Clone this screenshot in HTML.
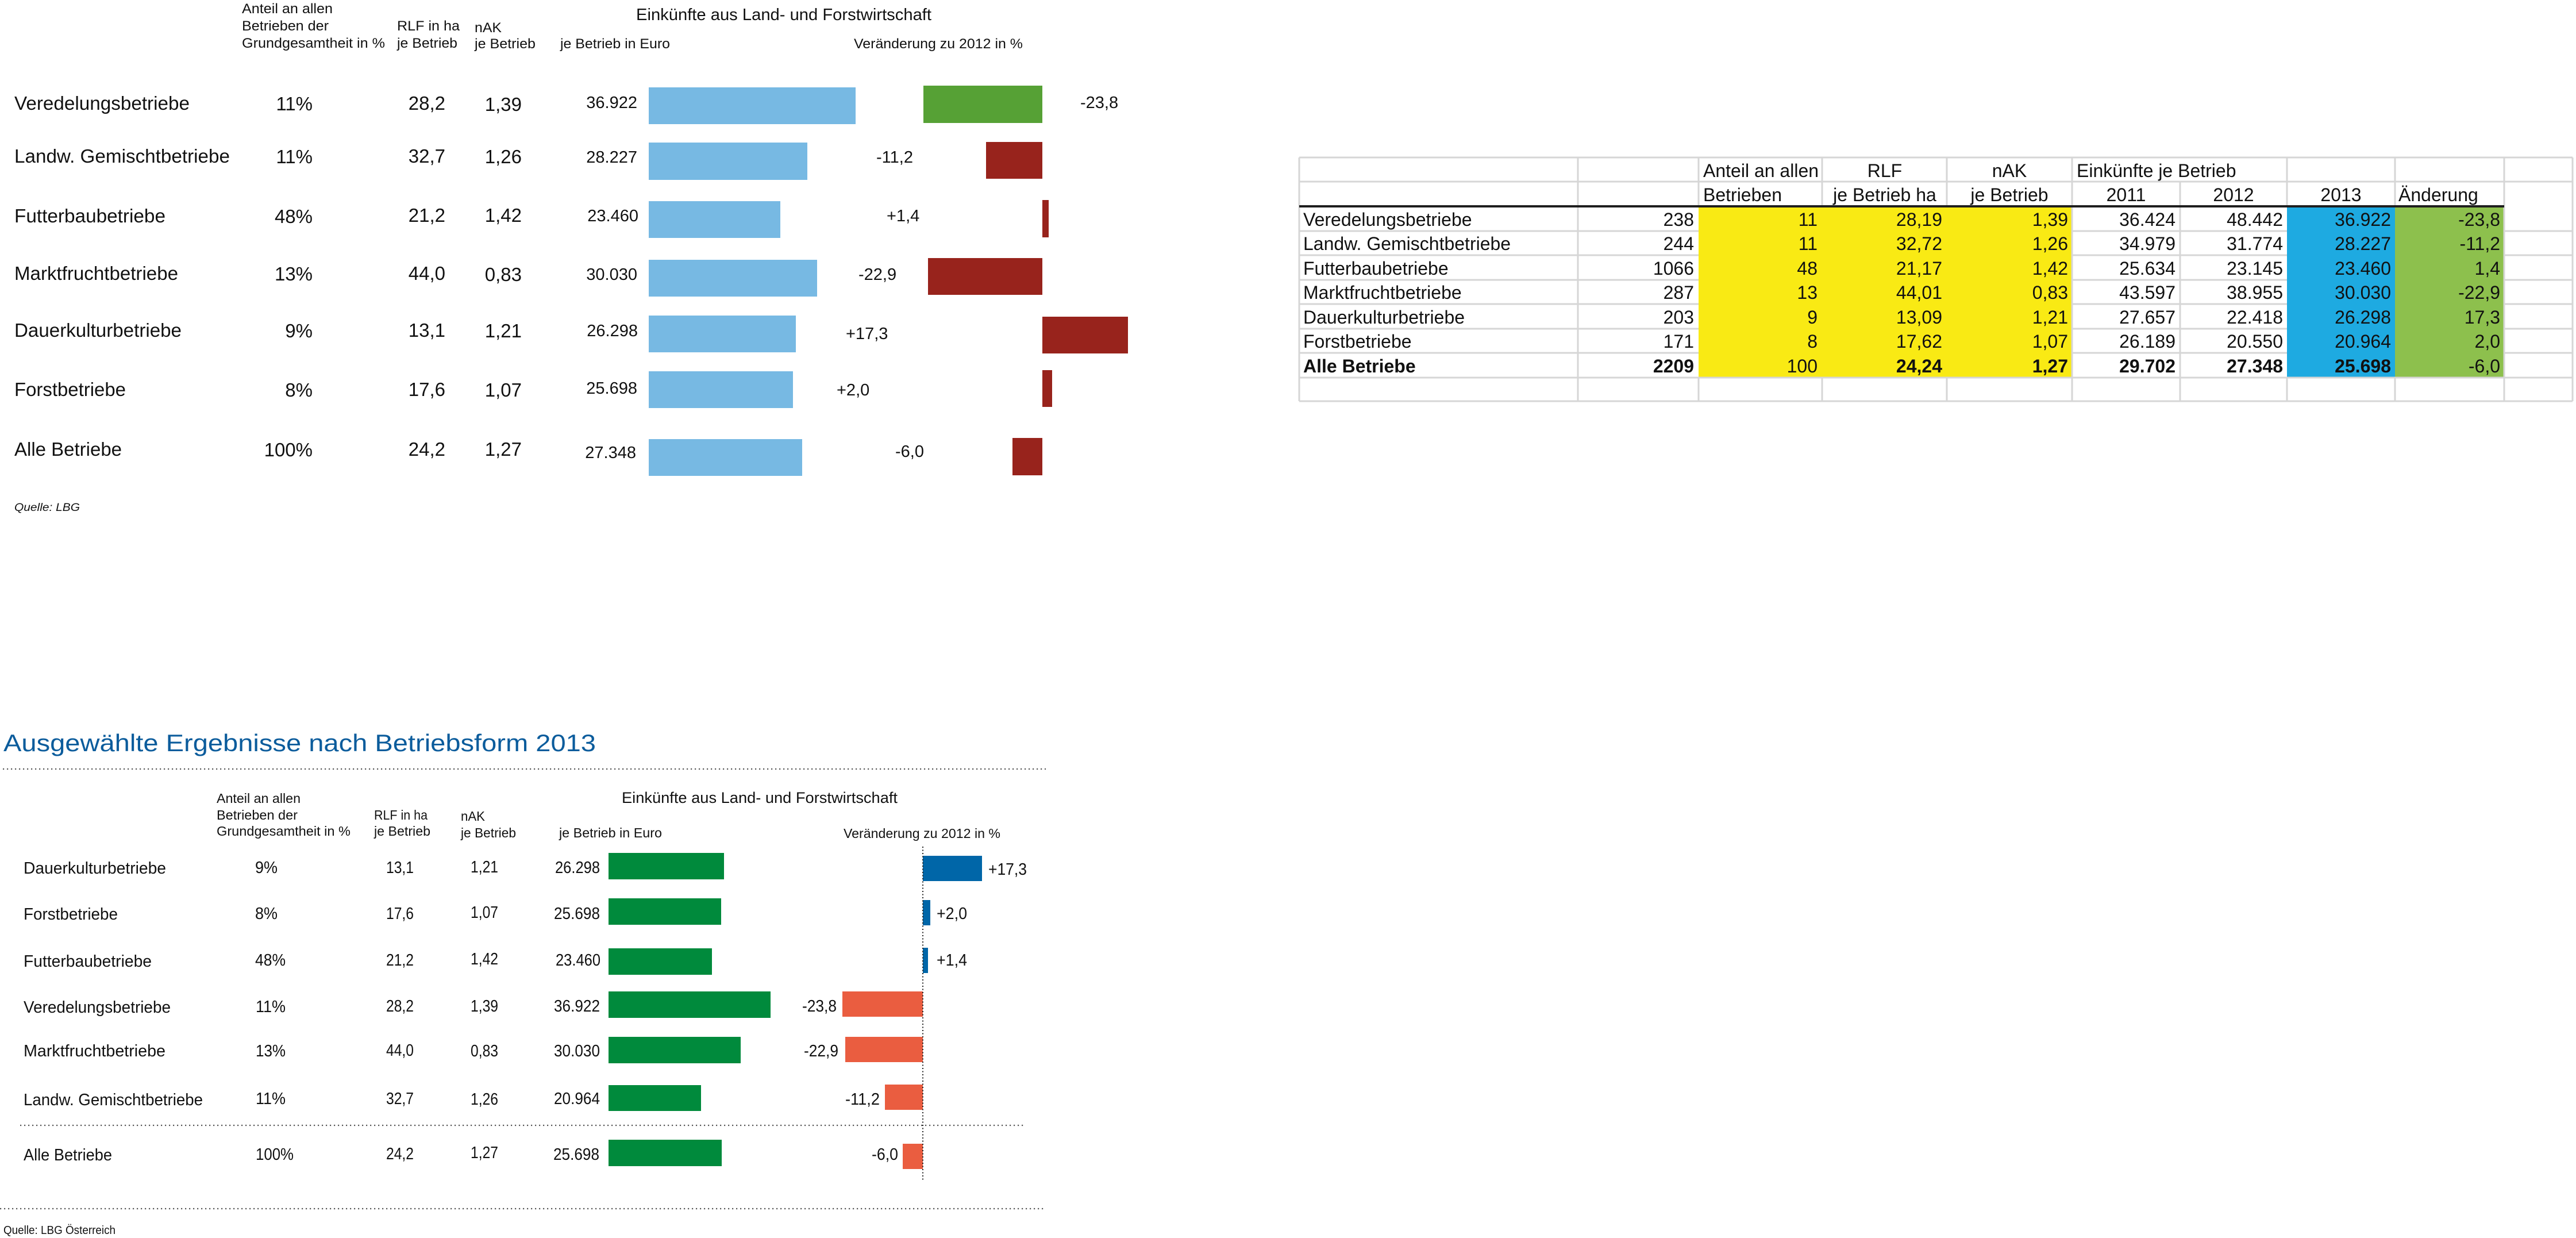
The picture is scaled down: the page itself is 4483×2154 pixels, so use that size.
<!DOCTYPE html>
<html><head><meta charset="utf-8"><style>
html,body{margin:0;padding:0;background:#fff;}
svg{display:block;}
text{font-family:"Liberation Sans",Arial,sans-serif;fill:#111;}
.t1{font-size:33px;}
.h1{font-size:24px;}
.v1{font-size:29px;}
.tb{font-size:32px;}
.b{font-weight:bold;}
.g{stroke:#d6d6d6;stroke-width:3;}
.b2 text{fill:#1a1a1a;}
.bl{font-size:29px;}
.bh{font-size:23px;}
</style></head><body>
<svg width="4483" height="2154" viewBox="0 0 4483 2154" xmlns="http://www.w3.org/2000/svg">
<rect width="4483" height="2154" fill="#fff"/>

<!-- ===== TOP-LEFT CHART ===== -->
<g class="h1">
<text class="h1" x="421" y="23" textLength="158" lengthAdjust="spacingAndGlyphs">Anteil an allen</text>
<text class="h1" x="421" y="53" textLength="151" lengthAdjust="spacingAndGlyphs">Betrieben der</text>
<text class="h1" x="421" y="83" textLength="249" lengthAdjust="spacingAndGlyphs">Grundgesamtheit in %</text>
<text class="h1" x="691" y="53" textLength="109" lengthAdjust="spacingAndGlyphs">RLF in ha</text>
<text class="h1" x="691" y="83" textLength="105" lengthAdjust="spacingAndGlyphs">je Betrieb</text>
<text class="h1" x="826" y="56" textLength="47" lengthAdjust="spacingAndGlyphs">nAK</text>
<text class="h1" x="826" y="84" textLength="106" lengthAdjust="spacingAndGlyphs">je Betrieb</text>
<text class="h1" x="975" y="84" textLength="191" lengthAdjust="spacingAndGlyphs">je Betrieb in Euro</text>
<text x="1107" y="35" font-size="29" textLength="514" lengthAdjust="spacingAndGlyphs">Einkünfte aus Land- und Forstwirtschaft</text>
<text class="h1" x="1486" y="84" textLength="294" lengthAdjust="spacingAndGlyphs">Veränderung zu 2012 in %</text>
</g>

<g class="t1">
<text class="t1" x="25" y="191" textLength="305" lengthAdjust="spacingAndGlyphs">Veredelungsbetriebe</text>
<text class="t1" x="25" y="283" textLength="375" lengthAdjust="spacingAndGlyphs">Landw. Gemischtbetriebe</text>
<text class="t1" x="25" y="387" textLength="263" lengthAdjust="spacingAndGlyphs">Futterbaubetriebe</text>
<text class="t1" x="25" y="487" textLength="285" lengthAdjust="spacingAndGlyphs">Marktfruchtbetriebe</text>
<text class="t1" x="25" y="586" textLength="291" lengthAdjust="spacingAndGlyphs">Dauerkulturbetriebe</text>
<text class="t1" x="25" y="689" textLength="194" lengthAdjust="spacingAndGlyphs">Forstbetriebe</text>
<text class="t1" x="25" y="793" textLength="187" lengthAdjust="spacingAndGlyphs">Alle Betriebe</text>
</g>
<g text-anchor="end">
<text class="t1" x="544" y="192">11%</text>
<text class="t1" x="544" y="284">11%</text>
<text class="t1" x="544" y="388">48%</text>
<text class="t1" x="544" y="488">13%</text>
<text class="t1" x="544" y="587">9%</text>
<text class="t1" x="544" y="690">8%</text>
<text class="t1" x="544" y="794">100%</text>

<text class="t1" x="775" y="191">28,2</text>
<text class="t1" x="775" y="283">32,7</text>
<text class="t1" x="775" y="386">21,2</text>
<text class="t1" x="775" y="487">44,0</text>
<text class="t1" x="775" y="586">13,1</text>
<text class="t1" x="775" y="689">17,6</text>
<text class="t1" x="775" y="793">24,2</text>

<text class="t1" x="908" y="193">1,39</text>
<text class="t1" x="908" y="284">1,26</text>
<text class="t1" x="908" y="386">1,42</text>
<text class="t1" x="908" y="489">0,83</text>
<text class="t1" x="908" y="587">1,21</text>
<text class="t1" x="908" y="690">1,07</text>
<text class="t1" x="908" y="793">1,27</text>

<text class="v1" x="1109" y="188">36.922</text>
<text class="v1" x="1109" y="283">28.227</text>
<text class="v1" x="1111" y="385">23.460</text>
<text class="v1" x="1109" y="487">30.030</text>
<text class="v1" x="1110" y="585">26.298</text>
<text class="v1" x="1109" y="685">25.698</text>
<text class="v1" x="1107" y="797">27.348</text>
</g>

<!-- blue bars -->
<g fill="#77b9e3">
<rect x="1129" y="152" width="360" height="64"/>
<rect x="1129" y="248" width="276" height="65"/>
<rect x="1129" y="350" width="229" height="64"/>
<rect x="1129" y="452" width="293" height="64"/>
<rect x="1129" y="549" width="256" height="64"/>
<rect x="1129" y="646" width="251" height="64"/>
<rect x="1129" y="764" width="267" height="64"/>
</g>
<!-- change bars -->
<rect x="1607" y="149" width="207" height="65" fill="#56a135"/>
<g fill="#98231c">
<rect x="1716" y="247" width="98" height="64"/>
<rect x="1814" y="348" width="11" height="65"/>
<rect x="1615" y="449" width="199" height="64"/>
<rect x="1814" y="551" width="149" height="64"/>
<rect x="1814" y="644" width="17" height="64"/>
<rect x="1762" y="762" width="52" height="65"/>
</g>
<g>
<text class="v1" x="1880" y="188">-23,8</text>
<text class="v1" x="1525" y="283">-11,2</text>
<text class="v1" x="1543" y="385">+1,4</text>
<text class="v1" x="1494" y="487">-22,9</text>
<text class="v1" x="1472" y="590">+17,3</text>
<text class="v1" x="1456" y="688">+2,0</text>
<text class="v1" x="1558" y="795">-6,0</text>
</g>
<text x="25" y="889" font-size="19" font-style="italic" textLength="114" lengthAdjust="spacingAndGlyphs">Quelle: LBG</text>

<!-- ===== TOP-RIGHT TABLE ===== -->
<rect x="2956" y="359" width="650" height="298" fill="#f9ea14"/>
<rect x="3980" y="359" width="188" height="298" fill="#1eaae1"/>
<rect x="4168" y="359" width="190" height="298" fill="#8dc04d"/>
<g class="g">
<!-- horizontal lines -->
<line x1="2261" y1="274" x2="4477" y2="274"/>
<line x1="2261" y1="316" x2="4477" y2="316"/>
<line x1="2261" y1="402" x2="2956" y2="402"/><line x1="3606" y1="402" x2="3980" y2="402"/><line x1="4358" y1="402" x2="4477" y2="402"/>
<line x1="2261" y1="444" x2="2956" y2="444"/><line x1="3606" y1="444" x2="3980" y2="444"/><line x1="4358" y1="444" x2="4477" y2="444"/>
<line x1="2261" y1="487" x2="2956" y2="487"/><line x1="3606" y1="487" x2="3980" y2="487"/><line x1="4358" y1="487" x2="4477" y2="487"/>
<line x1="2261" y1="529" x2="2956" y2="529"/><line x1="3606" y1="529" x2="3980" y2="529"/><line x1="4358" y1="529" x2="4477" y2="529"/>
<line x1="2261" y1="572" x2="2956" y2="572"/><line x1="3606" y1="572" x2="3980" y2="572"/><line x1="4358" y1="572" x2="4477" y2="572"/>
<line x1="2261" y1="614" x2="2956" y2="614"/><line x1="3606" y1="614" x2="3980" y2="614"/><line x1="4358" y1="614" x2="4477" y2="614"/>
<line x1="2261" y1="657" x2="4477" y2="657"/>
<line x1="2261" y1="698" x2="4477" y2="698"/>
<!-- vertical lines -->
<line x1="2261" y1="274" x2="2261" y2="698"/>
<line x1="2746" y1="274" x2="2746" y2="698"/>
<line x1="2956" y1="274" x2="2956" y2="359"/><line x1="2956" y1="657" x2="2956" y2="698"/>
<line x1="3171" y1="274" x2="3171" y2="359"/><line x1="3171" y1="657" x2="3171" y2="698"/>
<line x1="3388" y1="274" x2="3388" y2="359"/><line x1="3388" y1="657" x2="3388" y2="698"/>
<line x1="3606" y1="274" x2="3606" y2="698"/>
<line x1="3794" y1="316" x2="3794" y2="698"/>
<line x1="3980" y1="274" x2="3980" y2="359"/><line x1="3980" y1="657" x2="3980" y2="698"/>
<line x1="4168" y1="274" x2="4168" y2="359"/><line x1="4168" y1="657" x2="4168" y2="698"/>
<line x1="4358" y1="274" x2="4358" y2="698"/>
<line x1="4477" y1="274" x2="4477" y2="698"/>
</g>
<line x1="2261" y1="359" x2="4358" y2="359" stroke="#1e1e1e" stroke-width="4"/>

<g>
<text class="tb" x="2964" y="308">Anteil an allen</text>
<text class="tb" x="3280" y="308" text-anchor="middle">RLF</text>
<text class="tb" x="3497" y="308" text-anchor="middle">nAK</text>
<text class="tb" x="3614" y="308">Einkünfte je Betrieb</text>
<text class="tb" x="2964" y="350">Betrieben</text>
<text class="tb" x="3280" y="350" text-anchor="middle">je Betrieb ha</text>
<text class="tb" x="3497" y="350" text-anchor="middle">je Betrieb</text>
<text class="tb" x="3700" y="350" text-anchor="middle">2011</text>
<text class="tb" x="3887" y="350" text-anchor="middle">2012</text>
<text class="tb" x="4074" y="350" text-anchor="middle">2013</text>
<text class="tb" x="4174" y="350">Änderung</text>

<text class="tb" x="2268" y="393">Veredelungsbetriebe</text>
<text class="tb" x="2268" y="435">Landw. Gemischtbetriebe</text>
<text class="tb" x="2268" y="478">Futterbaubetriebe</text>
<text class="tb" x="2268" y="520">Marktfruchtbetriebe</text>
<text class="tb" x="2268" y="563">Dauerkulturbetriebe</text>
<text class="tb" x="2268" y="605">Forstbetriebe</text>
<text class="tb b" x="2268" y="648">Alle Betriebe</text>
</g>
<g text-anchor="end">
<text class="tb" x="2948" y="393">238</text>
<text class="tb" x="2948" y="435">244</text>
<text class="tb" x="2948" y="478">1066</text>
<text class="tb" x="2948" y="520">287</text>
<text class="tb" x="2948" y="563">203</text>
<text class="tb" x="2948" y="605">171</text>
<text class="tb b" x="2948" y="648">2209</text>

<text class="tb" x="3163" y="393">11</text>
<text class="tb" x="3163" y="435">11</text>
<text class="tb" x="3163" y="478">48</text>
<text class="tb" x="3163" y="520">13</text>
<text class="tb" x="3163" y="563">9</text>
<text class="tb" x="3163" y="605">8</text>
<text class="tb" x="3163" y="648">100</text>

<text class="tb" x="3380" y="393">28,19</text>
<text class="tb" x="3380" y="435">32,72</text>
<text class="tb" x="3380" y="478">21,17</text>
<text class="tb" x="3380" y="520">44,01</text>
<text class="tb" x="3380" y="563">13,09</text>
<text class="tb" x="3380" y="605">17,62</text>
<text class="tb b" x="3380" y="648">24,24</text>

<text class="tb" x="3599" y="393">1,39</text>
<text class="tb" x="3599" y="435">1,26</text>
<text class="tb" x="3599" y="478">1,42</text>
<text class="tb" x="3599" y="520">0,83</text>
<text class="tb" x="3599" y="563">1,21</text>
<text class="tb" x="3599" y="605">1,07</text>
<text class="tb b" x="3599" y="648">1,27</text>

<text class="tb" x="3786" y="393">36.424</text>
<text class="tb" x="3786" y="435">34.979</text>
<text class="tb" x="3786" y="478">25.634</text>
<text class="tb" x="3786" y="520">43.597</text>
<text class="tb" x="3786" y="563">27.657</text>
<text class="tb" x="3786" y="605">26.189</text>
<text class="tb b" x="3786" y="648">29.702</text>

<text class="tb" x="3973" y="393">48.442</text>
<text class="tb" x="3973" y="435">31.774</text>
<text class="tb" x="3973" y="478">23.145</text>
<text class="tb" x="3973" y="520">38.955</text>
<text class="tb" x="3973" y="563">22.418</text>
<text class="tb" x="3973" y="605">20.550</text>
<text class="tb b" x="3973" y="648">27.348</text>

<text class="tb" x="4161" y="393">36.922</text>
<text class="tb" x="4161" y="435">28.227</text>
<text class="tb" x="4161" y="478">23.460</text>
<text class="tb" x="4161" y="520">30.030</text>
<text class="tb" x="4161" y="563">26.298</text>
<text class="tb" x="4161" y="605">20.964</text>
<text class="tb b" x="4161" y="648">25.698</text>

<text class="tb" x="4351" y="393">-23,8</text>
<text class="tb" x="4351" y="435">-11,2</text>
<text class="tb" x="4351" y="478">1,4</text>
<text class="tb" x="4351" y="520">-22,9</text>
<text class="tb" x="4351" y="563">17,3</text>
<text class="tb" x="4351" y="605">2,0</text>
<text class="tb" x="4351" y="648">-6,0</text>
</g>

<!-- ===== BOTTOM CHART ===== -->
<text x="6" y="1307" font-size="42" style="fill:#0b5c9c" textLength="1031" lengthAdjust="spacingAndGlyphs">Ausgewählte Ergebnisse nach Betriebsform 2013</text>
<g stroke="#555" stroke-width="2.2" stroke-dasharray="2.2 4.8" fill="none">
<line x1="5" y1="1338" x2="1820" y2="1338"/>
<line x1="35" y1="1958" x2="1782" y2="1958"/>
<line x1="0" y1="2103" x2="1817" y2="2103"/>
</g>

<g>
<text class="bh" x="377" y="1397" textLength="146" lengthAdjust="spacingAndGlyphs">Anteil an allen</text>
<text class="bh" x="377" y="1426" textLength="141" lengthAdjust="spacingAndGlyphs">Betrieben der</text>
<text class="bh" x="377" y="1454" textLength="233" lengthAdjust="spacingAndGlyphs">Grundgesamtheit in %</text>
<text class="bh" x="651" y="1426" textLength="93" lengthAdjust="spacingAndGlyphs">RLF in ha</text>
<text class="bh" x="651" y="1454" textLength="98" lengthAdjust="spacingAndGlyphs">je Betrieb</text>
<text class="bh" x="802" y="1428" textLength="42" lengthAdjust="spacingAndGlyphs">nAK</text>
<text class="bh" x="802" y="1457" textLength="96" lengthAdjust="spacingAndGlyphs">je Betrieb</text>
<text class="bh" x="973" y="1457" textLength="179" lengthAdjust="spacingAndGlyphs">je Betrieb in Euro</text>
<text x="1082" y="1397" font-size="27" textLength="480" lengthAdjust="spacingAndGlyphs">Einkünfte aus Land- und Forstwirtschaft</text>
<text class="bh" x="1468" y="1458" textLength="273" lengthAdjust="spacingAndGlyphs">Veränderung zu 2012 in %</text>
</g>

<g>
<text class="bl" x="41" y="1520" textLength="248" lengthAdjust="spacingAndGlyphs">Dauerkulturbetriebe</text>
<text class="bl" x="41" y="1600" textLength="164" lengthAdjust="spacingAndGlyphs">Forstbetriebe</text>
<text class="bl" x="41" y="1682" textLength="223" lengthAdjust="spacingAndGlyphs">Futterbaubetriebe</text>
<text class="bl" x="41" y="1762" textLength="256" lengthAdjust="spacingAndGlyphs">Veredelungsbetriebe</text>
<text class="bl" x="41" y="1838" textLength="247" lengthAdjust="spacingAndGlyphs">Marktfruchtbetriebe</text>
<text class="bl" x="41" y="1923" textLength="312" lengthAdjust="spacingAndGlyphs">Landw. Gemischtbetriebe</text>
<text class="bl" x="41" y="2019" textLength="154" lengthAdjust="spacingAndGlyphs">Alle Betriebe</text>

<text class="bl" x="444" y="1519" textLength="39" lengthAdjust="spacingAndGlyphs">9%</text>
<text class="bl" x="444" y="1599" textLength="39" lengthAdjust="spacingAndGlyphs">8%</text>
<text class="bl" x="444" y="1680" textLength="53" lengthAdjust="spacingAndGlyphs">48%</text>
<text class="bl" x="445" y="1761" textLength="52" lengthAdjust="spacingAndGlyphs">11%</text>
<text class="bl" x="445" y="1838" textLength="52" lengthAdjust="spacingAndGlyphs">13%</text>
<text class="bl" x="445" y="1921" textLength="52" lengthAdjust="spacingAndGlyphs">11%</text>
<text class="bl" x="445" y="2018" textLength="66" lengthAdjust="spacingAndGlyphs">100%</text>

<text class="bl" x="672" y="1519" textLength="48" lengthAdjust="spacingAndGlyphs">13,1</text>
<text class="bl" x="672" y="1599" textLength="48" lengthAdjust="spacingAndGlyphs">17,6</text>
<text class="bl" x="672" y="1680" textLength="48" lengthAdjust="spacingAndGlyphs">21,2</text>
<text class="bl" x="672" y="1760" textLength="48" lengthAdjust="spacingAndGlyphs">28,2</text>
<text class="bl" x="672" y="1837" textLength="48" lengthAdjust="spacingAndGlyphs">44,0</text>
<text class="bl" x="672" y="1921" textLength="48" lengthAdjust="spacingAndGlyphs">32,7</text>
<text class="bl" x="672" y="2017" textLength="48" lengthAdjust="spacingAndGlyphs">24,2</text>

<text class="bl" x="819" y="1518" textLength="48" lengthAdjust="spacingAndGlyphs">1,21</text>
<text class="bl" x="819" y="1597" textLength="48" lengthAdjust="spacingAndGlyphs">1,07</text>
<text class="bl" x="819" y="1678" textLength="48" lengthAdjust="spacingAndGlyphs">1,42</text>
<text class="bl" x="819" y="1760" textLength="48" lengthAdjust="spacingAndGlyphs">1,39</text>
<text class="bl" x="819" y="1838" textLength="48" lengthAdjust="spacingAndGlyphs">0,83</text>
<text class="bl" x="819" y="1922" textLength="48" lengthAdjust="spacingAndGlyphs">1,26</text>
<text class="bl" x="819" y="2015" textLength="48" lengthAdjust="spacingAndGlyphs">1,27</text>

<text class="bl" x="966" y="1519" textLength="78" lengthAdjust="spacingAndGlyphs">26.298</text>
<text class="bl" x="964" y="1599" textLength="80" lengthAdjust="spacingAndGlyphs">25.698</text>
<text class="bl" x="967" y="1680" textLength="78" lengthAdjust="spacingAndGlyphs">23.460</text>
<text class="bl" x="964" y="1760" textLength="80" lengthAdjust="spacingAndGlyphs">36.922</text>
<text class="bl" x="964" y="1838" textLength="80" lengthAdjust="spacingAndGlyphs">30.030</text>
<text class="bl" x="964" y="1921" textLength="80" lengthAdjust="spacingAndGlyphs">20.964</text>
<text class="bl" x="963" y="2018" textLength="80" lengthAdjust="spacingAndGlyphs">25.698</text>
</g>

<g fill="#008a3c">
<rect x="1059" y="1484" width="201" height="46"/>
<rect x="1059" y="1563" width="196" height="46"/>
<rect x="1059" y="1650" width="180" height="46"/>
<rect x="1059" y="1725" width="282" height="46"/>
<rect x="1059" y="1804" width="230" height="46"/>
<rect x="1059" y="1888" width="161" height="45"/>
<rect x="1059" y="1983" width="197" height="46"/>
</g>
<g fill="#0066a8">
<rect x="1606" y="1489" width="103" height="44"/>
<rect x="1606" y="1566" width="13" height="44"/>
<rect x="1606" y="1649" width="9" height="44"/>
</g>
<g fill="#ea5d40">
<rect x="1466" y="1725" width="140" height="44"/>
<rect x="1471" y="1804" width="135" height="44"/>
<rect x="1540" y="1887" width="66" height="44"/>
<rect x="1571" y="1990" width="35" height="44"/>
</g>
<line x1="1606" y1="1473" x2="1606" y2="2055" stroke="#222" stroke-width="2" stroke-dasharray="2 3.5"/>

<g>
<text class="bl" x="1720" y="1522" textLength="67" lengthAdjust="spacingAndGlyphs">+17,3</text>
<text class="bl" x="1630" y="1599" textLength="53" lengthAdjust="spacingAndGlyphs">+2,0</text>
<text class="bl" x="1630" y="1680" textLength="53" lengthAdjust="spacingAndGlyphs">+1,4</text>
<text class="bl" x="1396" y="1760" textLength="60" lengthAdjust="spacingAndGlyphs">-23,8</text>
<text class="bl" x="1399" y="1838" textLength="60" lengthAdjust="spacingAndGlyphs">-22,9</text>
<text class="bl" x="1471" y="1922" textLength="60" lengthAdjust="spacingAndGlyphs">-11,2</text>
<text class="bl" x="1517" y="2018" textLength="46" lengthAdjust="spacingAndGlyphs">-6,0</text>
</g>
<text x="6" y="2147" font-size="20" textLength="195" lengthAdjust="spacingAndGlyphs">Quelle: LBG Österreich</text>
</svg>
</body></html>
